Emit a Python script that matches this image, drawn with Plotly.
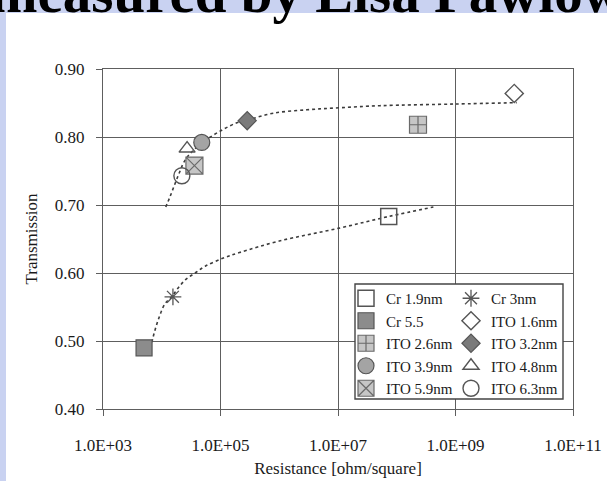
import plotly.graph_objects as go

# ---- data ----
series_names = ["Cr 1.9nm", "Cr 3nm", "Cr 5.5", "ITO 1.6nm", "ITO 2.6nm",
                "ITO 3.2nm", "ITO 3.9nm", "ITO 4.8nm", "ITO 5.9nm", "ITO 6.3nm"]
resistance = [7.3e7, 1.55e4, 5.0e3, 1.0e10, 2.3e8, 2.85e5, 4.8e4, 2.7e4, 3.6e4, 2.2e4]
transmission = [0.683, 0.565, 0.490, 0.864, 0.818, 0.824, 0.792, 0.783, 0.758, 0.743]

ito_trend_x = [1.17e4, 1.38e4, 1.9e4, 2.5e4, 3.5e4, 5.75e4, 1.05e5, 1.9e5, 2.9e5,
               7.9e5, 2.95e6, 1.05e7, 5.1e7, 1.0e9, 1.1e10]
ito_trend_y = [0.697, 0.712, 0.743, 0.766, 0.781, 0.796, 0.810, 0.821, 0.825,
               0.835, 0.840, 0.843, 0.846, 0.8485, 0.8505]

cr_trend_x = [5.6e3, 6.8e3, 7.4e3, 8.7e3, 1.14e4, 1.48e4, 1.9e4, 2.6e4, 3.7e4,
              5.5e4, 1.12e5, 2.1e5, 1.0e6, 1.05e7, 7.2e7, 4.2e8]
cr_trend_y = [0.482, 0.499, 0.511, 0.531, 0.555, 0.565, 0.578, 0.591, 0.600,
              0.610, 0.622, 0.630, 0.647, 0.666, 0.683, 0.697]

x_tickvals = [1e3, 1e5, 1e7, 1e9, 1e11]
x_ticktext = ["1.0E+03", "1.0E+05", "1.0E+07", "1.0E+09", "1.0E+11"]
y_tickvals = [0.40, 0.50, 0.60, 0.70, 0.80, 0.90]
y_ticktext = ["0.40", "0.50", "0.60", "0.70", "0.80", "0.90"]

# ---- styles ----
FONT = "Liberation Serif, Times New Roman, serif"
GRID = "#5e5e5e"
EDGE = "#555555"
styles = {
    "Cr 1.9nm": dict(symbol="square-open", size=16, color=EDGE, line=dict(width=1.5, color=EDGE)),
    "Cr 3nm": dict(symbol="asterisk-open", size=14, color=EDGE, line=dict(width=1.3, color=EDGE)),
    "Cr 5.5": dict(symbol="square", size=16, color="#8c8c8c", line=dict(width=1.2, color=EDGE)),
    "ITO 1.6nm": dict(symbol="diamond-open", size=14, color=EDGE, line=dict(width=1.4, color=EDGE)),
    "ITO 2.6nm": dict(symbol="square-cross", size=17, color="#c6c6c6", line=dict(width=1.2, color="#6a6a6a")),
    "ITO 3.2nm": dict(symbol="diamond", size=14, color="#7a7a7a", line=dict(width=1.2, color=EDGE)),
    "ITO 3.9nm": dict(symbol="circle", size=16, color="#a4a4a4", line=dict(width=1.2, color=EDGE)),
    "ITO 4.8nm": dict(symbol="triangle-up-open", size=14, color=EDGE, line=dict(width=1.4, color=EDGE)),
    "ITO 5.9nm": dict(symbol="square-x", size=17, color="#c6c6c6", line=dict(width=1.2, color="#6a6a6a")),
    "ITO 6.3nm": dict(symbol="circle-open", size=16, color=EDGE, line=dict(width=1.4, color=EDGE)),
}
column_two = {"Cr 3nm", "ITO 1.6nm", "ITO 3.2nm", "ITO 4.8nm", "ITO 6.3nm"}

fig = go.Figure()

trend_line = dict(color="#3c3c3c", width=1.6, dash="3px,3px", shape="spline")
fig.add_trace(go.Scatter(x=ito_trend_x, y=ito_trend_y, mode="lines", line=trend_line,
                         showlegend=False, hoverinfo="skip"))
fig.add_trace(go.Scatter(x=cr_trend_x, y=cr_trend_y, mode="lines", line=trend_line,
                         showlegend=False, hoverinfo="skip"))

for name, xv, yv in zip(series_names, resistance, transmission):
    fig.add_trace(go.Scatter(
        x=[xv], y=[yv], mode="markers", name=name, marker=styles[name],
        legend="legend2" if name in column_two else "legend",
    ))

# pixel -> paper helpers for the fixed plot box (103..573, 69..409)
L, R, T, B = 103, 573, 69, 409
def px(x):
    return (x - L) / (R - L)
def py(y):
    return (B - y) / (B - T)

legend_common = dict(font=dict(family=FONT, size=15, color="#1a1a1a"),
                     bgcolor="rgba(0,0,0,0)", borderwidth=0,
                     xanchor="left", yanchor="top", traceorder="normal")

fig.update_layout(
    width=607, height=481,
    margin=dict(l=L, r=607 - R, t=T, b=481 - B, autoexpand=False),
    paper_bgcolor="#c9d2f1",
    plot_bgcolor="white",
    font=dict(family=FONT, size=17, color="#1a1a1a"),
    legend=dict(x=px(346), y=py(282), **legend_common),
    legend2=dict(x=px(451), y=py(282), **legend_common),
    shapes=[
        dict(type="rect", xref="paper", yref="paper", layer="below",
             x0=px(6), x1=px(620), y0=py(500), y1=py(13),
             fillcolor="white", line=dict(width=0)),
        dict(type="rect", xref="paper", yref="paper", layer="above",
             x0=px(355), x1=px(563), y0=py(399), y1=py(284),
             fillcolor="white", line=dict(width=1.4, color="#444444")),
    ],
    annotations=[
        dict(text="<b>measured by Elsa Pawlowski</b>", xref="paper", yref="paper",
             x=px(-12), y=py(26), xanchor="left", yanchor="bottom", showarrow=False,
             font=dict(family=FONT, size=57, color="black")),
    ],
)

fig.update_xaxes(
    type="log", range=[3, 11], tickvals=x_tickvals, ticktext=x_ticktext,
    showgrid=True, gridcolor=GRID, gridwidth=1.3, automargin=False,
    showline=True, linecolor=GRID, linewidth=1.3, mirror=True,
    ticks="outside", ticklen=6, tickcolor=GRID, tickwidth=1.3,
    ticklabelstandoff=14, zeroline=False,
    title=dict(text="Resistance [ohm/square]", font=dict(family=FONT, size=17), standoff=8),
)
fig.update_yaxes(
    range=[0.40, 0.90], tickvals=y_tickvals, ticktext=y_ticktext,
    showgrid=True, gridcolor=GRID, gridwidth=1.3, automargin=False,
    showline=True, linecolor=GRID, linewidth=1.3, mirror=True,
    ticks="outside", ticklen=6, tickcolor=GRID, tickwidth=1.3,
    ticklabelstandoff=8, zeroline=False,
    title=dict(text="Transmission", font=dict(family=FONT, size=17), standoff=12),
)

fig.write_html("out.html")
